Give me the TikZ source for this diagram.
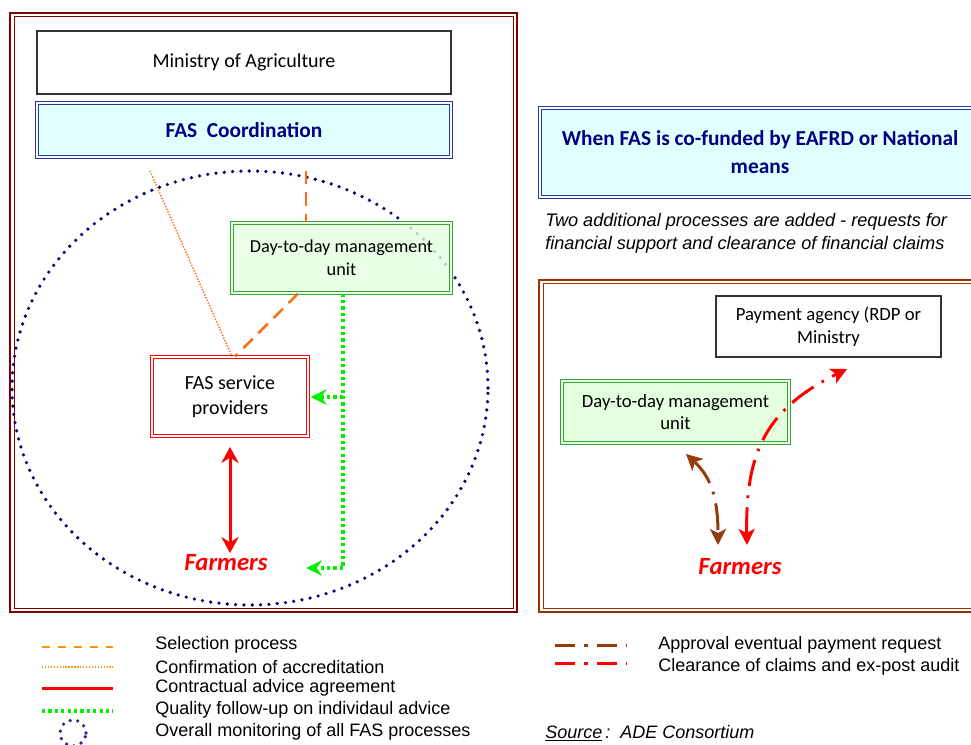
\documentclass[tikz,border=0pt]{standalone}
\usepackage{fontspec}
\setmainfont{Carlito}
\newfontfamily\arialf{Liberation Sans}
\usetikzlibrary{arrows.meta}
\definecolor{frameRed}{RGB}{128,0,0}
\definecolor{frameBrown}{RGB}{153,51,0}
\definecolor{navyT}{RGB}{0,0,128}
\definecolor{coordFill}{RGB}{224,255,255}
\definecolor{coordLine}{RGB}{51,51,153}
\definecolor{ddFill}{RGB}{228,255,224}
\definecolor{ddLine}{RGB}{60,160,60}
\definecolor{selOrange}{RGB}{250,110,20}
\definecolor{legOrange}{RGB}{255,150,0}
\definecolor{qGreen}{RGB}{0,240,0}
\definecolor{apprBrown}{RGB}{150,60,10}
\definecolor{ellNavy}{RGB}{0,0,120}
\definecolor{legNavy}{RGB}{40,40,150}
\definecolor{fRed}{RGB}{255,0,0}
\begin{document}
\begin{tikzpicture}[x=0.75pt,y=-0.75pt,
  calfont/.style={font=\fontsize{14}{17}\selectfont},
  plainbox/.style={draw=black!80, line width=1pt, fill=white, inner sep=0pt, align=center, calfont},
  coordbox/.style={draw=coordLine, double=coordFill!50!white, line width=0.9pt, double distance=1.2pt, fill=coordFill, inner sep=0pt, align=center, text=navyT, font=\fontsize{16}{21}\selectfont\bfseries},
  ddbox/.style={draw=ddLine, double=ddFill, line width=0.9pt, double distance=1.2pt, fill=ddFill, fill opacity=0.8, text opacity=1, inner sep=0pt, align=center, calfont},
  fspbox/.style={draw=fRed, double=white, line width=0.8pt, double distance=1.2pt, fill=white, inner sep=0pt, align=center, font=\fontsize{15}{19}\selectfont},
  farmtext/.style={text=fRed, font=\fontsize{18.5}{20}\selectfont\bfseries\itshape},
  sel/.style={selOrange, line width=1.9pt, dash pattern=on 10pt off 6pt},
  accr/.style={selOrange, line width=1.1pt, dash pattern=on 1pt off 1.2pt},
  qual/.style={qGreen, line width=2.6pt, dash pattern=on 2.4pt off 2.4pt},
  qtip/.style={-{Stealth[length=12pt,width=11.5pt,inset=4pt]}},
  contract/.style={fRed, line width=2.25pt, {Stealth[length=12pt,width=13pt,inset=4pt]}-{Stealth[length=12pt,width=13pt,inset=4pt]}},
  appr/.style={apprBrown, line width=2.25pt, dash pattern=on 20pt off 7pt on 2pt off 7pt, {Stealth[length=12pt,width=12pt,inset=3pt]}-{Stealth[length=12pt,width=12pt,inset=3pt]}},
  clear/.style={fRed, line width=2.25pt, dash pattern=on 20pt off 7pt on 2pt off 7pt, {Stealth[length=12pt,width=12pt,inset=3pt]}-{Stealth[length=12pt,width=12pt,inset=3pt]}},
  monitor/.style={ellNavy, line width=2.7pt, line cap=round, dash pattern=on 0pt off 6.25pt},
  legtext/.style={anchor=west, inner sep=0pt, font=\arialf\fontsize{13.5}{16}\selectfont},
]
\useasboundingbox (0,0) rectangle (971,745);
\fill[white] (0,0) rectangle (971,745);
\clip (0,0) rectangle (971,745);

% left frame
\draw[frameRed, line width=1.5pt] (10,13) rectangle (517,612);
\draw[frameRed, line width=0.75pt] (14,17) rectangle (513,608);

% monitoring ellipse
\draw[monitor] (250,388) ellipse [x radius=178.5pt, y radius=162.75pt];

% left nodes
\node[plainbox, font=\fontsize{15}{18}\selectfont, minimum width=310.5pt, minimum height=47.25pt] (min) at (244,62.5) {Ministry of Agriculture};
\node[coordbox, minimum width=310.5pt, minimum height=40.5pt] (coord) at (244,130) {FAS\ \ Coordination};
\node[ddbox, font=\fontsize{13.7}{17.25}\selectfont, minimum width=164.25pt, minimum height=52.5pt] (dd) at (341.5,258) {Day-to-day management\\unit};
\node[fspbox, minimum width=117pt, minimum height=59.25pt] (fsp) at (230,396.5) {FAS service\\providers};
\node[farmtext] (farmL) at (226,563) {Farmers};

% helper x positions
\coordinate (x298) at (298,0);
\coordinate (x235) at (235,0);
\coordinate (x232) at (232,0);

% left connectors
\coordinate (s1) at (306,171);
\draw[sel] (s1) -- (s1 |- dd.north);
\draw[sel] (dd.south -| x298) -- (fsp.north -| x235);
\coordinate (a0) at (150,171);
\draw[accr] (a0) -- (fsp.north -| x232);
\coordinate (q1) at (343,568);
\coordinate (q2) at (306,568);
\coordinate (q3) at (343,397);
\draw[qual] (dd.south -| q1) -- (q1);
\draw[qual,qtip] (q1) -- (q2);
\draw[qual,qtip] (q3) -- ([xshift=1.5pt]fsp.east |- q3);
\coordinate (c1) at (230,447);
\coordinate (c2) at (230,553);
\draw[contract] (c1) -- (c2);

% right header
\node[coordbox, minimum width=330pt, minimum height=66.75pt] (when) at (760,152.5) {When FAS is co-funded by EAFRD or National\\means};
\node[anchor=west, align=left, inner sep=0pt, font=\arialf\itshape\fontsize{13.6}{17.25}\selectfont] (twoadd) at (545,233.5) {Two additional processes are added - requests for\\financial support and clearance of financial claims};

% right frame
\draw[frameBrown, line width=1.5pt] (539,280) rectangle (995,612);
\draw[frameBrown, line width=0.75pt] (543,284) rectangle (995,608);

\node[plainbox, minimum width=168.75pt, minimum height=45.75pt] (pay) at (828.5,326.5) {Payment agency (RDP or\\Ministry};
\node[ddbox, fill opacity=1, minimum width=170.25pt, minimum height=46.5pt] (ddR) at (675.5,412) {Day-to-day management\\unit};
\node[farmtext] (farmR) at (740,567) {Farmers};

\coordinate (b1) at (686,454);
\coordinate (b2) at (718,545);
\draw[appr] (b1) .. controls (712,478) and (718,500) .. (b2);
\coordinate (r1) at (747,545);
\coordinate (r2) at (847,369);
\draw[clear] (r1) .. controls (745,450) and (768,408) .. (r2);

% legend left
\coordinate (l1a) at (42,647); \coordinate (l1b) at (113,647);
\draw[legOrange, line width=1.5pt, dash pattern=on 6pt off 6pt] (l1a) -- (l1b);
\coordinate (l2a) at (42,667); \coordinate (l2b) at (113,667);
\draw[legOrange, line width=1.1pt, dash pattern=on 1pt off 1.2pt] (l2a) -- (l2b);
\coordinate (l3a) at (42,688); \coordinate (l3b) at (113,688);
\draw[fRed, line width=2.25pt] (l3a) -- (l3b);
\coordinate (l4a) at (42,711); \coordinate (l4b) at (113,711);
\draw[qual] (l4a) -- (l4b);
\draw[legNavy, line width=2.7pt, line cap=round, dash pattern=on 0pt off 5.8pt] (73,733) circle [radius=9.75pt];

\node[legtext] (t1) at (155,645) {Selection process};
\node[legtext] (t2) at (155,667) {Confirmation of accreditation};
\node[legtext] (t3) at (155,688) {Contractual advice agreement};
\node[legtext] (t4) at (155,710) {Quality follow-up on individaul advice};
\node[legtext] (t5) at (155,732) {Overall monitoring of all FAS processes};

% legend right
\coordinate (l6a) at (555,645); \coordinate (l6b) at (627,645);
\draw[apprBrown, line width=2.25pt, dash pattern=on 15pt off 7pt on 2.5pt off 7pt] (l6a) -- (l6b);
\coordinate (l7a) at (555,663); \coordinate (l7b) at (627,663);
\draw[fRed, line width=2.25pt, dash pattern=on 15pt off 7pt on 2.5pt off 7pt] (l7a) -- (l7b);
\node[legtext] (t6) at (658,645) {Approval eventual payment request};
\node[legtext] (t7) at (658,667) {Clearance of claims and ex-post audit};
\node[legtext, font=\arialf\itshape\fontsize{13.5}{16}\selectfont] (src) at (545,733) {\underline{Source}\,:\ \ ADE Consortium};
\end{tikzpicture}
\end{document}
